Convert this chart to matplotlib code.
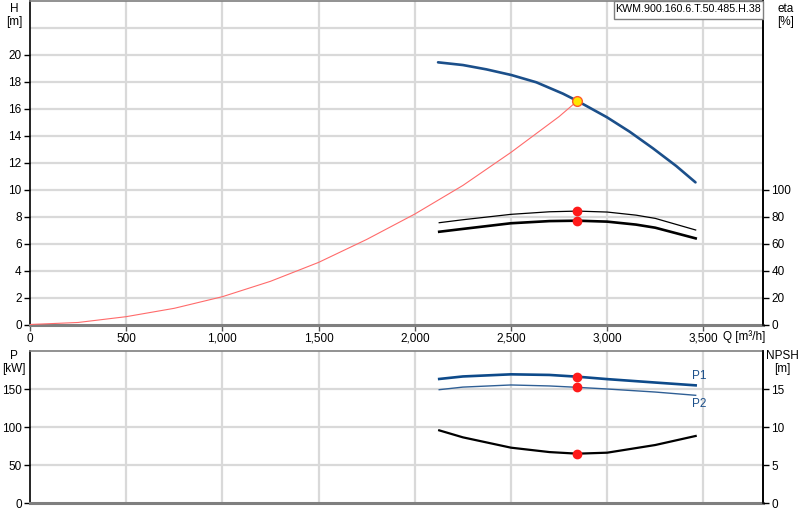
import matplotlib
matplotlib.use("Agg")
import matplotlib.pyplot as plt
from matplotlib.ticker import FuncFormatter
from matplotlib.patches import Rectangle

plt.rcParams['font.family'] = ['Liberation Sans', 'DejaVu Sans']

# ---- data ----
q_h = [2121, 2250, 2372, 2502, 2632, 2770, 2845, 2999, 3117, 3238, 3359, 3459]
h_vals = [19.42, 19.22, 18.90, 18.48, 17.94, 17.10, 16.56, 15.35, 14.28, 13.05, 11.74, 10.53]

q_sys = [0, 250, 500, 750, 1000, 1250, 1500, 1750, 2000, 2250, 2500, 2750, 2845]
h_sys = [0, 0.15, 0.58, 1.2, 2.06, 3.2, 4.6, 6.3, 8.18, 10.3, 12.75, 15.4, 16.56]

q_eta = [2127, 2250, 2500, 2700, 2845, 3000, 3150, 3250, 3460]
eta_upper = [75.4, 77.6, 81.6, 83.5, 84.0, 83.3, 81.0, 78.6, 70.0]
eta_lower = [68.7, 70.8, 75.0, 76.6, 76.9, 76.2, 74.0, 71.7, 63.8]

q_p = [2127, 2250, 2500, 2700, 2845, 3000, 3250, 3460]
p1 = [163.2, 166.5, 169.3, 168.5, 166.2, 163.0, 158.5, 154.8]
p2 = [149.1, 152.5, 155.3, 154.0, 152.2, 150.0, 146.0, 141.7]
npsh = [9.56, 8.64, 7.28, 6.70, 6.49, 6.62, 7.63, 8.82]

q_op = 2845
h_op = 16.56
eta_op = [84.0, 76.9]
p_op = [166.2, 152.2]
npsh_op = 6.49

x_ticks = [0, 500, 1000, 1500, 2000, 2500, 3000, 3500]
h_ticks = [0, 2, 4, 6, 8, 10, 12, 14, 16, 18, 20]
h_grid = [0, 2, 4, 6, 8, 10, 12, 14, 16, 18, 20, 22]
eta_ticks = [0, 20, 40, 60, 80, 100]
p_ticks = [0, 50, 100, 150]
npsh_ticks = [0, 5, 10, 15]
title_text = "KWM.900.160.6.T.50.485.H.38"

# ---- figure ----
W, H = 800, 520
fig = plt.figure(figsize=(8, 5.2), dpi=100)

def fx(px):
    return px / W

def fy(py):
    return 1 - py / H

ax1 = fig.add_axes([fx(30), fy(324.5), fx(763) - fx(30), fy(0.5) - fy(324.5)])
ax2 = fig.add_axes([fx(30), fy(503), fx(763) - fx(30), fy(351) - fy(503)])

grid_c = '#d9d9d9'
blue = '#1b4f8a'
fs = 8.5

for ax in (ax1, ax2):
    ax.set_xlim(0, 3810)
    ax.set_xticks(x_ticks)
    for v in x_ticks[1:]:
        ax.axvline(v, color=grid_c, lw=1.6, zorder=0)
    ax.spines['left'].set_color('black')
    ax.spines['left'].set_linewidth(1.2)
    ax.spines['right'].set_color('black')
    ax.spines['right'].set_linewidth(1.2)
    ax.spines['top'].set_color('#7f7f7f')
    ax.spines['top'].set_linewidth(1.2)
    ax.spines['bottom'].set_color('#7f7f7f')
    ax.spines['bottom'].set_linewidth(2.2)
    ax.tick_params(axis='y', direction='out', length=4, width=1, labelsize=fs, pad=2)

# top panel
ax1.set_ylim(0, 24)
ax1.set_yticks(h_ticks)
for v in h_grid[1:]:
    ax1.axhline(v, color=grid_c, lw=1.6, zorder=0)
ax1.xaxis.set_major_formatter(FuncFormatter(lambda v, p: f"{int(v):,}"))
ax1.tick_params(axis='x', direction='out', length=4, width=1, labelsize=fs, pad=2, color='#555555')

ax1.plot(q_sys, h_sys, color='#ff6b6b', lw=0.8, zorder=3)
ax1.plot(q_h, h_vals, color=blue, lw=1.9, zorder=4, solid_capstyle='round', solid_joinstyle='round')
ax1.plot([q_op], [h_op], 'o', ms=7, mfc='#ffe600', mec='#ff5a2a', mew=1.0, zorder=6)

ax1e = ax1.twinx()
ax1e.set_ylim(0, 240)
ax1e.set_yticks(eta_ticks)
ax1e.tick_params(axis='y', direction='out', length=4, width=1, labelsize=fs, pad=2)
ax1e.spines['right'].set_color('black')
ax1e.spines['right'].set_linewidth(1.2)
ax1e.spines['top'].set_visible(False)
ax1e.spines['bottom'].set_visible(False)
ax1e.spines['left'].set_visible(False)
ax1e.plot(q_eta, eta_upper, color='black', lw=0.9, zorder=4)
ax1e.plot(q_eta, eta_lower, color='black', lw=1.9, zorder=4)
ax1e.plot([q_op, q_op], eta_op, 'o', ms=6, color='#ff1a1a', zorder=6, ls='none')

# title box (top-right corner)
fig.patches.append(Rectangle((fx(614), fy(19)), fx(763) - fx(614), fy(0.5) - fy(19),
                             transform=fig.transFigure, fc='white', ec='#7f7f7f',
                             lw=1.0, zorder=10))
fig.text(fx(688.5), fy(9.5), title_text, ha='center', va='center', fontsize=7.7, zorder=11)

# bottom panel
ax2.set_ylim(0, 200)
ax2.set_yticks(p_ticks)
for v in p_ticks[1:]:
    ax2.axhline(v, color=grid_c, lw=1.6, zorder=0)
ax2.set_xticks(x_ticks)
ax2.tick_params(axis='x', length=0, labelbottom=False)
ax2.plot(q_p, p1, color='#0d4a8a', lw=1.9, zorder=4)
ax2.plot(q_p, p2, color='#2f5f95', lw=1.0, zorder=4)
ax2.plot([q_op, q_op], p_op, 'o', ms=6, color='#ff1a1a', zorder=6, ls='none')

ax2n = ax2.twinx()
ax2n.set_ylim(0, 20)
ax2n.set_yticks(npsh_ticks)
ax2n.tick_params(axis='y', direction='out', length=4, width=1, labelsize=fs, pad=2)
ax2n.spines['right'].set_color('black')
ax2n.spines['right'].set_linewidth(1.2)
for s in ('top', 'bottom', 'left'):
    ax2n.spines[s].set_visible(False)
ax2n.plot(q_p, npsh, color='black', lw=1.6, zorder=4)
ax2n.plot([q_op], [npsh_op], 'o', ms=6, color='#ff1a1a', zorder=6)

ax2.text(q_p[-1] - 20, p1[-1] + 4, 'P1', color=blue, fontsize=fs, ha='left', va='bottom')
ax2.text(q_p[-1] - 20, p2[-1] - 4, 'P2', color=blue, fontsize=fs, ha='left', va='top')

# axis labels
fig.text(fx(14), fy(3), 'H\n[m]', ha='center', va='top', fontsize=fs, linespacing=1.1)
fig.text(fx(786), fy(3), 'eta\n[%]', ha='center', va='top', fontsize=fs, linespacing=1.1)
fig.text(fx(14), fy(350), 'P\n[kW]', ha='center', va='top', fontsize=fs, linespacing=1.1)
fig.text(fx(782), fy(350), 'NPSH\n[m]', ha='center', va='top', fontsize=fs, linespacing=1.1)
fig.text(fx(723), fy(330), 'Q [m³/h]', ha='left', va='top', fontsize=fs)

fig.savefig('out.png', dpi=100)
